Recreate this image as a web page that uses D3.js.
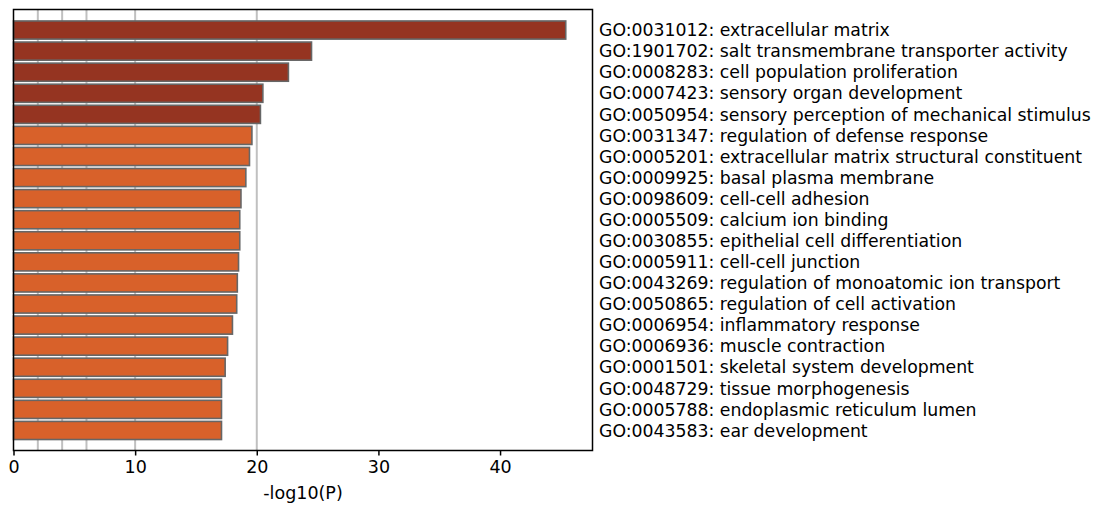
<!DOCTYPE html>
<html><head><meta charset="utf-8">
<script src="https://cdn.jsdelivr.net/npm/d3@7"></script>
<style>body{margin:0;background:#fff}svg{display:block}</style>
</head><body>
<svg id="c" width="1097" height="505"></svg>
<script>
const terms = [
 "GO:0031012: extracellular matrix",
 "GO:1901702: salt transmembrane transporter activity",
 "GO:0008283: cell population proliferation",
 "GO:0007423: sensory organ development",
 "GO:0050954: sensory perception of mechanical stimulus",
 "GO:0031347: regulation of defense response",
 "GO:0005201: extracellular matrix structural constituent",
 "GO:0009925: basal plasma membrane",
 "GO:0098609: cell-cell adhesion",
 "GO:0005509: calcium ion binding",
 "GO:0030855: epithelial cell differentiation",
 "GO:0005911: cell-cell junction",
 "GO:0043269: regulation of monoatomic ion transport",
 "GO:0050865: regulation of cell activation",
 "GO:0006954: inflammatory response",
 "GO:0006936: muscle contraction",
 "GO:0001501: skeletal system development",
 "GO:0048729: tissue morphogenesis",
 "GO:0005788: endoplasmic reticulum lumen",
 "GO:0043583: ear development"
];
const values = [45.4, 24.5, 22.6, 20.5, 20.3, 19.6, 19.4, 19.1, 18.7, 18.6, 18.6, 18.5, 18.4, 18.35, 18.0, 17.6, 17.4, 17.1, 17.1, 17.1];
const groups = [1,1,1,1,1,0,0,0,0,0,0,0,0,0,0,0,0,0,0,0];
const xTicks = [0, 10, 20, 30, 40];
const gridValues = [2, 4, 6, 10, 20];
const axisTitle = "-log10(P)";

const colors = ["#d8612a", "#953421"];
const svg = d3.select("#c");
const L = 13.5, R = 592.5, T = 9.5, B = 450.5;
const x = d3.scaleLinear().domain([0, 47.6]).range([L, R]);
const y = d3.scaleBand().domain(terms).range([19.5, 441]).paddingInner(0.14).paddingOuter(0.07);

svg.append("g").selectAll("line").data(gridValues).join("line")
  .attr("x1", d => x(d)).attr("x2", d => x(d)).attr("y1", T).attr("y2", B)
  .attr("stroke", "#c0c0c0").attr("stroke-width", 2);

svg.append("g").selectAll("rect").data(terms).join("rect")
  .attr("x", x(0)).attr("y", d => y(d))
  .attr("width", (d, i) => x(values[i]) - x(0))
  .attr("height", y.bandwidth())
  .attr("fill", (d, i) => colors[groups[i]])
  .attr("stroke", "#666").attr("stroke-width", 1.6);

svg.append("rect").attr("x", L).attr("y", T).attr("width", R - L).attr("height", B - T)
  .attr("fill", "none").attr("stroke", "#000").attr("stroke-width", 1.5);

const ax = svg.append("g").attr("transform", `translate(0,${B})`)
  .call(d3.axisBottom(x).tickValues(xTicks).tickFormat(d3.format("d")).tickSize(5).tickPadding(5));
ax.select(".domain").remove();
ax.selectAll(".tick line").attr("stroke", "#000").attr("stroke-width", 1.5);
ax.selectAll(".tick text").attr("font-family", "DejaVu Sans").attr("font-size", 17.5).attr("fill", "#000");

svg.append("text").attr("x", (L + R) / 2).attr("y", 499).attr("text-anchor", "middle")
  .attr("font-family", "DejaVu Sans").attr("font-size", 17.5).text(axisTitle);

svg.append("g").selectAll("text").data(terms).join("text")
  .attr("x", 599).attr("y", d => y(d) + y.bandwidth() / 2).attr("dy", "0.36em")
  .attr("font-family", "DejaVu Sans").attr("font-size", 17.3).attr("fill", "#000")
  .text(d => d);
</script>
</body></html>
